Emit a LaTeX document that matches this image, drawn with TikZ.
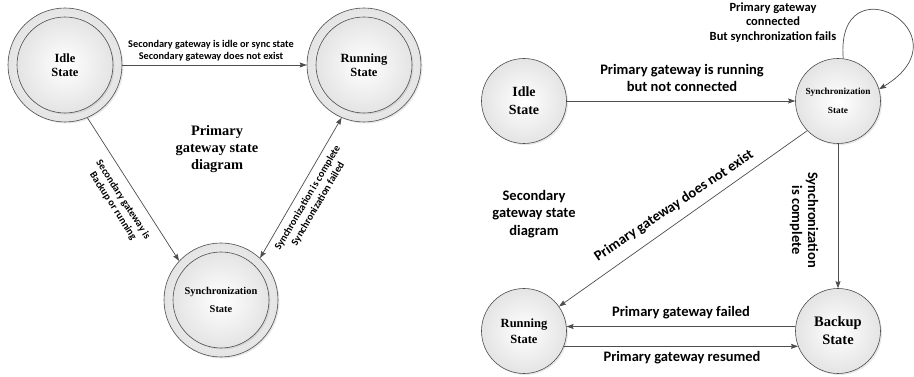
\documentclass[tikz,border=0pt]{standalone}
\usepackage{fontspec}
\setmainfont{Liberation Serif}
\newfontfamily\calib{Carlito}
\usepackage{tikz}
\usetikzlibrary{arrows.meta,shadows}
\definecolor{edgegray}{HTML}{4D4D4D}
\definecolor{stategray}{HTML}{E4E4E4}

\tikzset{
  statebg/.style={circle, draw=edgegray, line width=0.6pt, inner sep=0pt, align=center,
    shade, inner color=white, outer color=stategray,
    drop shadow={opacity=0.18, shadow xshift=1.5pt, shadow yshift=-1.5pt}},
  outerstate/.style={statebg, minimum size=114pt},
  innerstate/.style={statebg, minimum size=96pt, font=\bfseries\fontsize{12.5}{13.5}\selectfont},
  smallstate/.style={statebg, minimum size=85pt},
  trans/.style={draw=edgegray, line width=0.7pt, >={Stealth[length=7pt,width=5pt,inset=1pt]}},
  lbl/.style={font=\calib\bfseries\fontsize{10.3}{12}\selectfont, align=center, inner sep=1pt},
  biglbl/.style={font=\calib\bfseries\fontsize{14.5}{17}\selectfont, align=center, inner sep=1pt},
}

\begin{document}
\begin{tikzpicture}[x=1pt, y=1pt]
\useasboundingbox (0,0) rectangle (914,377);

% primary gateway
\node[outerstate] (idleP) at (65,312) {};
\node[innerstate] (idlePin) at (idleP) {Idle\\State};
\node[outerstate] (runP) at (364,312) {};
\node[innerstate] (runPin) at (runP) {Running\\State};
\node[outerstate] (syncP) at (221,77) {};
\node[innerstate, font=\bfseries\fontsize{10.4}{18}\selectfont] (syncPin) at (syncP) {Synchronization\\State};

\draw[trans, ->] (idleP.east) -- (runP.west);
\node[lbl] (idleRunP) at (211,326) {Secondary gateway is idle or sync state\\Secondary gateway does not exist};
\draw[trans, ->] (idleP.-67) -- (syncP.137);
\node[lbl, rotate=-57.25] (idleSyncP) at (118,174) {Secondary gateway is\\Backup or running};
\draw[trans, <->] (syncP.47) -- (runP.-113);
\node[lbl, rotate=59.5] (syncRunP) at (313,176) {Synchronization is complete\\Synchronization failed};
\node[font=\bfseries\fontsize{14.4}{17}\selectfont, align=center] (titleP) at (217,228) {Primary\\gateway state\\diagram};

% secondary gateway
\node[smallstate, font=\bfseries\fontsize{14}{18}\selectfont] (idleS) at (524,276) {Idle\\State};
\node[smallstate, font=\bfseries\fontsize{9.3}{19}\selectfont] (syncS) at (838,276) {Synchronization\\State};
\node[smallstate, font=\bfseries\fontsize{12.5}{16}\selectfont] (runS) at (524,46) {Running\\State};
\node[smallstate, font=\bfseries\fontsize{14.5}{18}\selectfont] (backS) at (838,46) {Backup\\State};

\draw[trans, ->] (idleS) -- (syncS);
\node[biglbl] (idleSyncS) at (682,299) {Primary gateway is running\\but not connected};
\draw[trans, ->] (syncS.83) .. controls +(-8,100) and +(92,56) .. (syncS.16);
\node[lbl, font=\calib\bfseries\fontsize{12.5}{14.5}\selectfont] (loopS) at (773,354.5) {Primary gateway\\connected\\But synchronization fails};
\draw[trans, ->] (syncS.224) -- (runS.35);
\node[biglbl, rotate=33.8] (syncRunS) at (674,171) {Primary gateway does not exist};
\draw[trans, ->] (syncS) -- (backS);
\node[biglbl, font=\calib\bfseries\fontsize{14.5}{16}\selectfont, rotate=-90] (syncBackS) at (804,157) {Synchronization\\is complete};
\draw[trans, ->] (backS.174) -- (runS.6);
\node[biglbl] (failS) at (681,64) {Primary gateway failed};
\draw[trans, ->] (runS.-21) -- (backS.201);
\node[biglbl] (resumeS) at (682,19) {Primary gateway resumed};
\node[biglbl, font=\calib\bfseries\fontsize{14.5}{17.5}\selectfont] (titleS) at (534,163) {Secondary\\gateway state\\diagram};
\end{tikzpicture}
\end{document}
